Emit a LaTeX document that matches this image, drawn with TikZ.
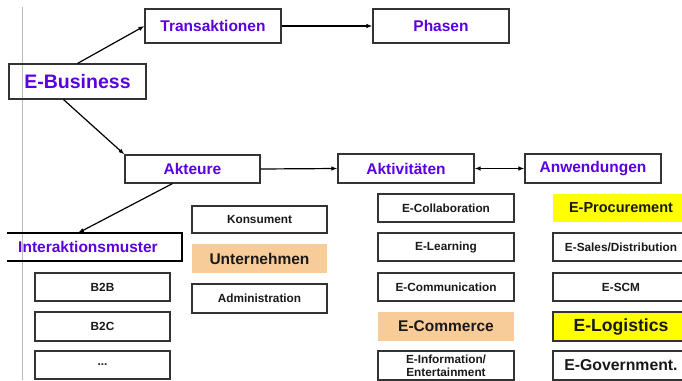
\documentclass[tikz,border=0pt]{standalone}
\usepackage{fontspec}
\setmainfont{Liberation Sans}
\usetikzlibrary{arrows.meta,calc}

\definecolor{headtext}{HTML}{5A00E0}
\definecolor{boxline}{HTML}{333333}
\definecolor{peach}{HTML}{F8CC99}
\definecolor{brightyellow}{HTML}{FFFF00}
\definecolor{guide}{HTML}{BBBBBB}

\tikzset{
  box/.style={draw=boxline, line width=1.1pt, inner sep=0pt, align=center,
    minimum width=136pt, minimum height=28pt},
  headbox/.style={box, text=headtext, font=\bfseries\fontsize{15.5}{17}\selectfont},
  smallbox/.style={box, text=black!90, font=\bfseries\fontsize{11.8}{12.7}\selectfont},
  bigbox/.style={box, text=black!90, font=\bfseries\fontsize{15.5}{17}\selectfont},
  peachbox/.style={bigbox, draw=none, fill=peach},
  link/.style={line width=1.2pt, -{Latex[length=6pt,width=4.5pt]}},
  twolink/.style={line width=1.2pt, {Latex[length=6pt,width=4.5pt]}-{Latex[length=6pt,width=4.5pt]}},
}

\begin{document}
\begin{tikzpicture}[x=1pt,y=-1pt]
  \useasboundingbox (0,0) rectangle (682,380);
  \clip (0,0) rectangle (682,380);

  % guide line at the left margin
  \draw[guide, line width=0.8pt] (22,7) -- (22,380);

  % top row
  \node[headbox, minimum width=137pt, minimum height=35pt,
        font=\bfseries\fontsize{19.5}{22}\selectfont] (ebiz) at (77.5,81.5) {E-Business};
  \node[headbox, minimum height=34pt] (trans) at (213,26) {Transaktionen};
  \node[headbox, minimum height=34pt] (phasen) at (441,26) {Phasen};

  % second row
  \node[headbox, minimum width=135pt] (akteure) at (192.5,169) {Akteure};
  \node[headbox, minimum height=29pt] (aktiv) at (406,168.5) {Aktivitäten};
  \node[headbox, minimum height=29pt] (anw) at (593,168.5) {Anwendungen};

  % interaction patterns (box open to the left)
  \node[text=headtext, font=\bfseries\fontsize{15.5}{17}\selectfont, inner sep=0pt]
    (interakt) at (88,247) {Interaktionsmuster};
  \draw[black, line width=1.1pt] (7,233) -- (182,233) -- (182,261) -- (7,261);
  \coordinate (interaktTop) at (78,233);

  \node[smallbox, minimum width=135pt] (b2b) at (102.5,287) {B2B};
  \node[smallbox, minimum width=135pt, minimum height=29pt] (b2c) at (102.5,326.5) {B2C};
  \node[smallbox, minimum width=135pt] (more) at (102.5,365) {...};

  % actors
  \node[smallbox, minimum width=135pt, minimum height=27pt] (kons) at (259.5,219.5) {Konsument};
  \node[peachbox, minimum width=135pt, minimum height=29pt] (untern) at (259.5,258.5) {Unternehmen};
  \node[smallbox, minimum width=135pt, minimum height=29pt] (admin) at (259.5,298.5) {Administration};

  % activities
  \node[smallbox] (ecoll) at (446,208) {E-Collaboration};
  \node[smallbox] (elearn) at (446,247) {E-Learning};
  \node[smallbox] (ecomm) at (446,287) {E-Communication};
  \node[peachbox, minimum height=29pt] (ecommerce) at (446,326.5) {E-Commerce};
  \node[smallbox, minimum height=29pt] (einfo) at (446,365.5) {E-Information/\\Entertainment};

  % applications
  \node[bigbox, draw=none, fill=brightyellow, font=\bfseries\fontsize{14.5}{16}\selectfont]
    (eproc) at (621,208) {E-Procurement};
  \node[smallbox] (esales) at (621,247) {E-Sales/Distribution};
  \node[smallbox] (escm) at (621,287) {E-SCM};
  \node[bigbox, fill=brightyellow, minimum height=29pt, font=\bfseries\fontsize{17.6}{19}\selectfont]
    (elog) at (621,326.5) {E-Logistics};
  \node[bigbox, minimum height=29pt, font=\bfseries\fontsize{15.8}{17}\selectfont]
    (egov) at (621,365.5) {E-Government.};

  % connectors
  \draw[link] (ebiz.north) -- (trans.west);
  \draw[link] (trans.east) -- (phasen.west);
  \draw[link] ($(ebiz.south)+(-14,0)$) -- (akteure.north west);
  \draw[link] (akteure.east) -- (aktiv.west);
  \draw[twolink] (aktiv.east) -- (anw.west);
  \draw[link] ($(akteure.south)+(-20,0)$) -- (interaktTop);
\end{tikzpicture}
\end{document}
